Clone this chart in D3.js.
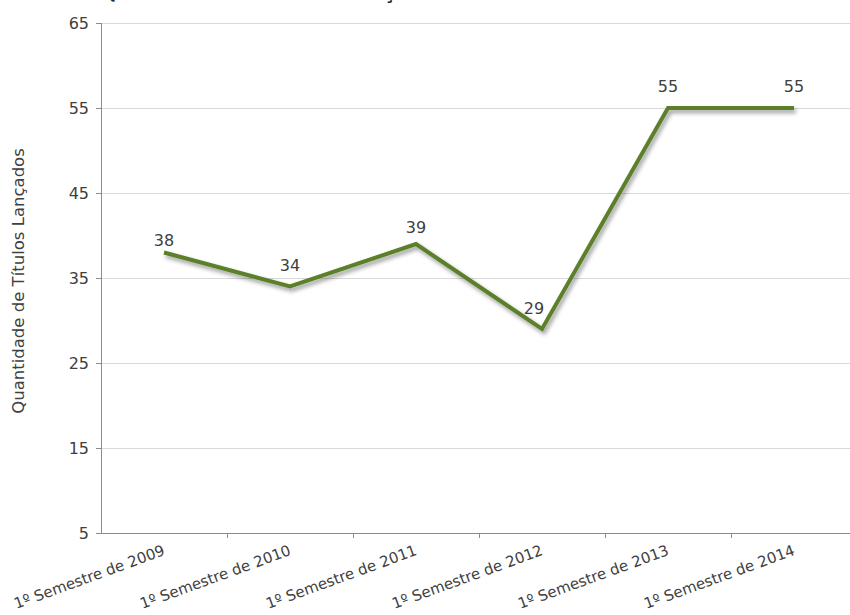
<!DOCTYPE html>
<html>
<head>
<meta charset="utf-8">
<script src="https://cdn.jsdelivr.net/npm/d3@7"></script>
<style>
  html, body { margin: 0; padding: 0; background: #fff; }
  svg { display: block; }
  text { font-family: "DejaVu Sans", sans-serif; }
</style>
</head>
<body>
<svg id="chart" width="850" height="615"></svg>
<script>
// Títulos lançados no primeiro semestre de cada ano
const categories = [
  "1º Semestre de 2009",
  "1º Semestre de 2010",
  "1º Semestre de 2011",
  "1º Semestre de 2012",
  "1º Semestre de 2013",
  "1º Semestre de 2014"
];
const titulos = [38, 34, 39, 29, 55, 55];
const yTicks = [5, 15, 25, 35, 45, 55, 65];
const yTitle = "Quantidade de Títulos Lançados";
const chartTitle = "Quantidade de Títulos Lançados no 1º Semestre de Cada Ano";

// hand-placed value labels: [dx, dy] nudges from the point
const labelNudge = [[0, -7], [0, -16], [0, -11], [-8, -15], [0, -16], [0, -16]];

const W = 850, H = 615;
const margin = { left: 101, right: -7, top: 23, bottom: 82 };
const svg = d3.select("#chart");

const x = d3.scaleBand()
  .domain(categories)
  .range([margin.left, W - margin.right])
  .paddingInner(0).paddingOuter(0);

const y = d3.scaleLinear()
  .domain([5, 65])
  .range([H - margin.bottom, margin.top]);

// shadow under the line
const defs = svg.append("defs");
const f = defs.append("filter").attr("id", "shadow")
  .attr("x", "-10%").attr("y", "-10%").attr("width", "120%").attr("height", "130%");
f.append("feDropShadow")
  .attr("dx", 2).attr("dy", 3).attr("stdDeviation", 2)
  .attr("flood-color", "#000").attr("flood-opacity", 0.4);

// chart title (sits at the very top edge)
svg.append("text")
  .attr("x", 430).attr("y", -1.5)
  .attr("text-anchor", "middle")
  .attr("font-size", 19).attr("font-weight", "bold")
  .attr("fill", "#222")
  .text(chartTitle);

// horizontal gridlines
svg.append("g")
  .selectAll("line")
  .data(yTicks.filter(d => d !== 5))
  .join("line")
  .attr("x1", margin.left).attr("x2", W)
  .attr("y1", d => y(d)).attr("y2", d => y(d))
  .attr("stroke", "#d9d9d9").attr("stroke-width", 1)
  .attr("shape-rendering", "crispEdges");

// y axis
const yAxis = svg.append("g")
  .attr("transform", `translate(${margin.left},0)`)
  .call(d3.axisLeft(y).tickValues(yTicks).tickSize(5).tickPadding(7).tickFormat(d3.format("d")));
yAxis.select(".domain").attr("stroke", "#8c8c8c").attr("shape-rendering", "crispEdges");
yAxis.selectAll(".tick line").attr("stroke", "#8c8c8c").attr("shape-rendering", "crispEdges");
yAxis.selectAll(".tick text")
  .attr("font-size", 16).attr("fill", "#404040")
  .attr("font-family", "'DejaVu Sans', sans-serif");

// x axis with ticks between categories
const xAxisG = svg.append("g")
  .attr("transform", `translate(0,${y(5)})`);
xAxisG.append("line")
  .attr("x1", margin.left).attr("x2", W)
  .attr("y1", 0).attr("y2", 0)
  .attr("stroke", "#8c8c8c").attr("shape-rendering", "crispEdges");
xAxisG.selectAll("line.tk")
  .data(categories.slice(1))
  .join("line").attr("class", "tk")
  .attr("x1", d => x(d)).attr("x2", d => x(d))
  .attr("y1", 0).attr("y2", 5)
  .attr("stroke", "#8c8c8c").attr("shape-rendering", "crispEdges");
xAxisG.selectAll("text")
  .data(categories)
  .join("text")
  .attr("transform", d => `translate(${x(d) + x.bandwidth() / 2 - 2},11) rotate(-20)`)
  .attr("dy", "0.75em")
  .attr("text-anchor", "end")
  .attr("font-size", 15).attr("fill", "#404040")
  .text(d => d);

// y axis title
svg.append("text")
  .attr("transform", `translate(24,${(y(5) + y(65)) / 2 + 3}) rotate(-90)`)
  .attr("text-anchor", "middle")
  .attr("font-size", 16.5).attr("fill", "#404040")
  .text(yTitle);

// line
const pts = categories.map((c, i) => ({ c, v: titulos[i], n: labelNudge[i] }));
const line = d3.line()
  .x(d => x(d.c) + x.bandwidth() / 2)
  .y(d => y(d.v));
svg.append("path")
  .datum(pts)
  .attr("d", line)
  .attr("fill", "none")
  .attr("stroke", "#5b7f2a")
  .attr("stroke-width", 4)
  .attr("stroke-linejoin", "miter")
  .attr("filter", "url(#shadow)");

// value labels
svg.append("g")
  .selectAll("text")
  .data(pts)
  .join("text")
  .attr("x", d => x(d.c) + x.bandwidth() / 2 + d.n[0])
  .attr("y", d => y(d.v) + d.n[1])
  .attr("text-anchor", "middle")
  .attr("font-size", 16).attr("fill", "#404040")
  .text(d => d.v);
</script>
</body>
</html>
